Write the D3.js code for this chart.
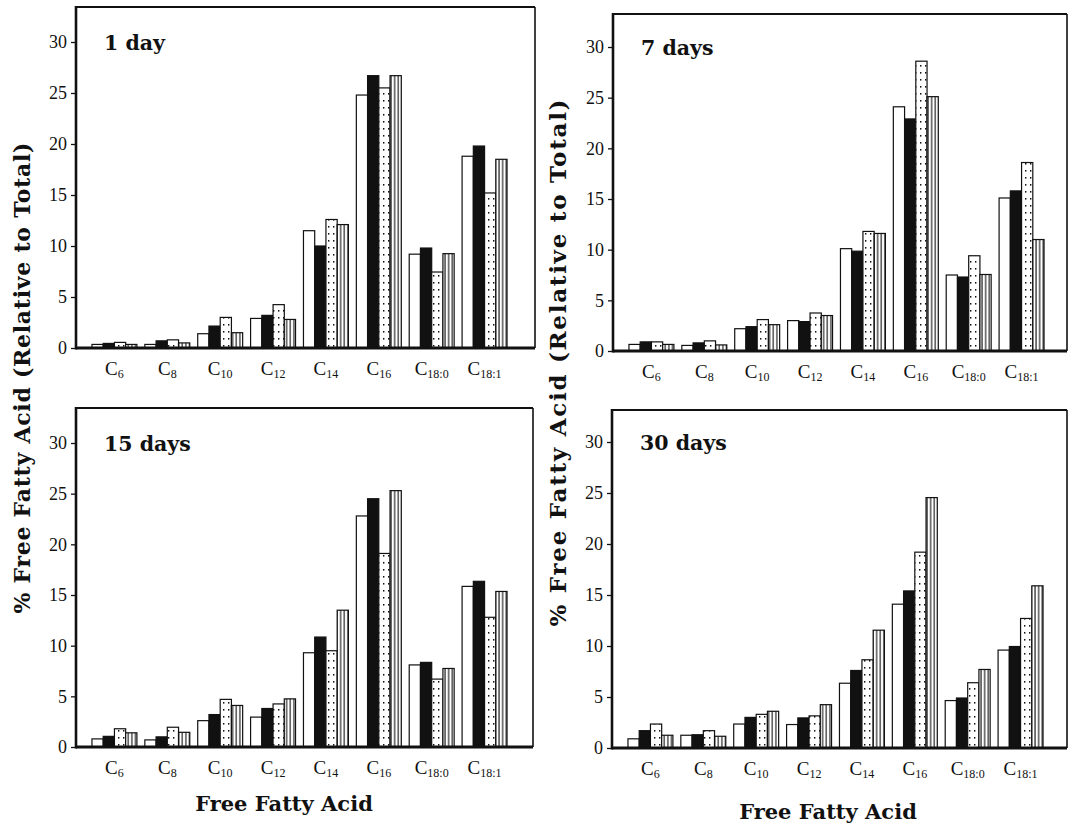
<!DOCTYPE html>
<html>
<head>
<meta charset="utf-8">
<script src="https://cdn.jsdelivr.net/npm/d3@7"></script>
<style>
	body { margin: 0; background: #fff; }
	svg { display: block; }
	.title { font-family: "DejaVu Serif", serif; font-weight: bold; fill: #111; }
</style>
</head>
<body>
<div id="chart"></div>
<script>

///////////////////////////////////////////////////////////////////////////
//////////////////////////////// Data /////////////////////////////////////
///////////////////////////////////////////////////////////////////////////

var acids = ["C6", "C8", "C10", "C12", "C14", "C16", "C18:0", "C18:1"];
var seriesNames = ["open", "solid", "dotted", "striped"];
var yTicks = [0, 5, 10, 15, 20, 25, 30];
var panelTitles = ["1 day", "7 days", "15 days", "30 days"];

// one row per bar style: open, solid, dotted, striped
var day1 = [
	[0.35, 0.35, 1.4, 2.9, 11.5, 24.8, 9.2, 18.8],
	[0.45, 0.7, 2.15, 3.2, 10.0, 26.7, 9.8, 19.8],
	[0.55, 0.8, 3.0, 4.25, 12.6, 25.5, 7.45, 15.2],
	[0.35, 0.5, 1.5, 2.8, 12.1, 26.7, 9.25, 18.5]
];
var day7 = [
	[0.65, 0.55, 2.2, 3.0, 10.1, 24.1, 7.5, 15.1],
	[0.9, 0.8, 2.4, 2.9, 9.85, 22.9, 7.3, 15.8],
	[0.9, 1.0, 3.1, 3.75, 11.8, 28.6, 9.4, 18.6],
	[0.65, 0.6, 2.6, 3.5, 11.6, 25.1, 7.55, 11.0]
];
var day15 = [
	[0.8, 0.7, 2.6, 2.95, 9.3, 22.8, 8.1, 15.85],
	[1.05, 1.0, 3.2, 3.8, 10.85, 24.5, 8.35, 16.35],
	[1.8, 1.95, 4.7, 4.25, 9.5, 19.1, 6.7, 12.8],
	[1.4, 1.45, 4.1, 4.75, 13.5, 25.3, 7.75, 15.35]
];
var day30 = [
	[0.9, 1.25, 2.35, 2.3, 6.35, 14.1, 4.65, 9.6],
	[1.7, 1.3, 3.0, 2.95, 7.6, 15.4, 4.9, 9.95],
	[2.35, 1.7, 3.3, 3.15, 8.65, 19.2, 6.4, 12.7],
	[1.25, 1.15, 3.6, 4.25, 11.55, 24.55, 7.7, 15.9]
];

var yTitle = "% Free Fatty Acid (Relative to Total)";
var xTitle = "Free Fatty Acid";

///////////////////////////////////////////////////////////////////////////
//////////////////////////// SVG + patterns ///////////////////////////////
///////////////////////////////////////////////////////////////////////////

var svgW = 1071,
	svgH = 825;

var svg = d3.select("#chart")
	.append("svg")
	.attr("width", svgW)
	.attr("height", svgH);

var defs = svg.append("defs");

// sparse dots for the third bar
var dots = defs.append("pattern")
	.attr("id", "dots")
	.attr("patternUnits", "userSpaceOnUse")
	.attr("width", 5)
	.attr("height", 7);
dots.append("rect").attr("width", 5).attr("height", 7).attr("fill", "#fff");
dots.append("rect").attr("x", 2).attr("y", 2).attr("width", 1.4).attr("height", 1.6).attr("fill", "#111");

// vertical lines for the fourth bar
var stripes = defs.append("pattern")
	.attr("id", "stripes")
	.attr("patternUnits", "userSpaceOnUse")
	.attr("width", 3.6)
	.attr("height", 10);
stripes.append("rect").attr("width", 3.6).attr("height", 10).attr("fill", "#fff");
stripes.append("rect").attr("x", 1.3).attr("width", 1.1).attr("height", 10).attr("fill", "#111");

var fills = {
	open: "#fff",
	solid: "#111",
	dotted: "url(#dots)",
	striped: "url(#stripes)"
};

///////////////////////////////////////////////////////////////////////////
//////////////////////////////// Panels ///////////////////////////////////
///////////////////////////////////////////////////////////////////////////

// frame geometry of each panel, in page pixels
var panels = [
	{ values: day1, left: 76, right: 535, top: 7, base: 348, y30: 42 },
	{ values: day7, left: 613, right: 1067, top: 14, base: 351, y30: 47 },
	{ values: day15, left: 76, right: 533, top: 408, base: 747, y30: 443 },
	{ values: day30, left: 612, right: 1067, top: 410, base: 748, y30: 442 }
];

panels.forEach(function(p, k) {

	var g = svg.append("g")
		.attr("transform", "translate(" + p.left + ",0)");

	var y = d3.scaleLinear()
		.domain([0, 30])
		.range([p.base, p.y30]);

	var x0 = d3.scaleBand()
		.domain(acids)
		.range([12, 435])
		.paddingInner(0.15)
		.paddingOuter(0.075);

	var x1 = d3.scaleBand()
		.domain(seriesNames)
		.range([0, x0.bandwidth()]);

	// flatten into one record per bar
	var bars = [];
	acids.forEach(function(a, i) {
		seriesNames.forEach(function(s, j) {
			bars.push({ acid: a, series: s, value: p.values[j][i] });
		});
	});

	g.selectAll("rect.bar")
		.data(bars)
		.enter()
		.append("rect")
		.attr("class", "bar")
		.attr("x", function(d) { return x0(d.acid) + x1(d.series); })
		.attr("y", function(d) { return y(d.value); })
		.attr("width", x1.bandwidth())
		.attr("height", function(d) { return p.base - y(d.value); })
		.attr("fill", function(d) { return fills[d.series]; })
		.attr("stroke", "#111")
		.attr("stroke-width", 1.2);

	// frame
	var w = p.right - p.left;
	g.append("line").attr("x1", 0).attr("x2", w).attr("y1", p.top).attr("y2", p.top)
		.attr("stroke", "#111").attr("stroke-width", 2);
	g.append("line").attr("x1", w).attr("x2", w).attr("y1", p.top).attr("y2", p.base)
		.attr("stroke", "#111").attr("stroke-width", 1.6);
	g.append("line").attr("x1", 0).attr("x2", 0).attr("y1", p.top - 1).attr("y2", p.base + 1.5)
		.attr("stroke", "#111").attr("stroke-width", 2.6);
	g.append("line").attr("x1", 0).attr("x2", w).attr("y1", p.base).attr("y2", p.base)
		.attr("stroke", "#111").attr("stroke-width", 3);

	// y axis ticks
	var yAxis = d3.axisLeft(y)
		.tickValues(yTicks)
		.tickSize(5)
		.tickPadding(4);
	var gy = g.append("g")
		.attr("class", "axis")
		.call(yAxis);
	gy.select(".domain").remove();
	gy.selectAll(".tick line").attr("stroke", "#111").attr("stroke-width", 1.3);
	gy.selectAll(".tick text")
		.style("font-family", "'Liberation Serif', serif")
		.style("font-size", "18px")
		.attr("fill", "#111");

	// category labels with subscripts
	var cat = g.selectAll("text.cat")
		.data(acids)
		.enter()
		.append("text")
		.attr("class", "cat")
		.attr("x", function(d) { return x0(d) + x0.bandwidth() / 2; })
		.attr("y", p.base + 27)
		.attr("text-anchor", "middle")
		.style("font-family", "'Liberation Serif', serif")
		.attr("fill", "#111");
	cat.append("tspan")
		.style("font-size", "19px")
		.text("C");
	cat.append("tspan")
		.style("font-size", "12px")
		.attr("dy", 3)
		.text(function(d) { return d.slice(1); });

	// panel title
	g.append("text")
		.attr("class", "title")
		.attr("x", 28)
		.attr("y", p.y30 + 8)
		.style("font-size", "20.5px")
		.text(panelTitles[k]);
});

///////////////////////////////////////////////////////////////////////////
///////////////////////////// Axis titles /////////////////////////////////
///////////////////////////////////////////////////////////////////////////

svg.append("text")
	.attr("class", "title")
	.attr("transform", "translate(30,378) rotate(-90)")
	.attr("text-anchor", "middle")
	.attr("textLength", 471)
	.attr("lengthAdjust", "spacing")
	.style("font-size", "22px")
	.text(yTitle);

svg.append("text")
	.attr("class", "title")
	.attr("transform", "translate(566,363) rotate(-90)")
	.attr("text-anchor", "middle")
	.attr("textLength", 527)
	.attr("lengthAdjust", "spacing")
	.style("font-size", "23px")
	.text(yTitle);

svg.append("text")
	.attr("class", "title")
	.attr("x", 284)
	.attr("y", 811)
	.attr("text-anchor", "middle")
	.style("font-size", "21px")
	.text(xTitle);

svg.append("text")
	.attr("class", "title")
	.attr("x", 828)
	.attr("y", 819)
	.attr("text-anchor", "middle")
	.style("font-size", "21px")
	.text(xTitle);

</script>
</body>
</html>
